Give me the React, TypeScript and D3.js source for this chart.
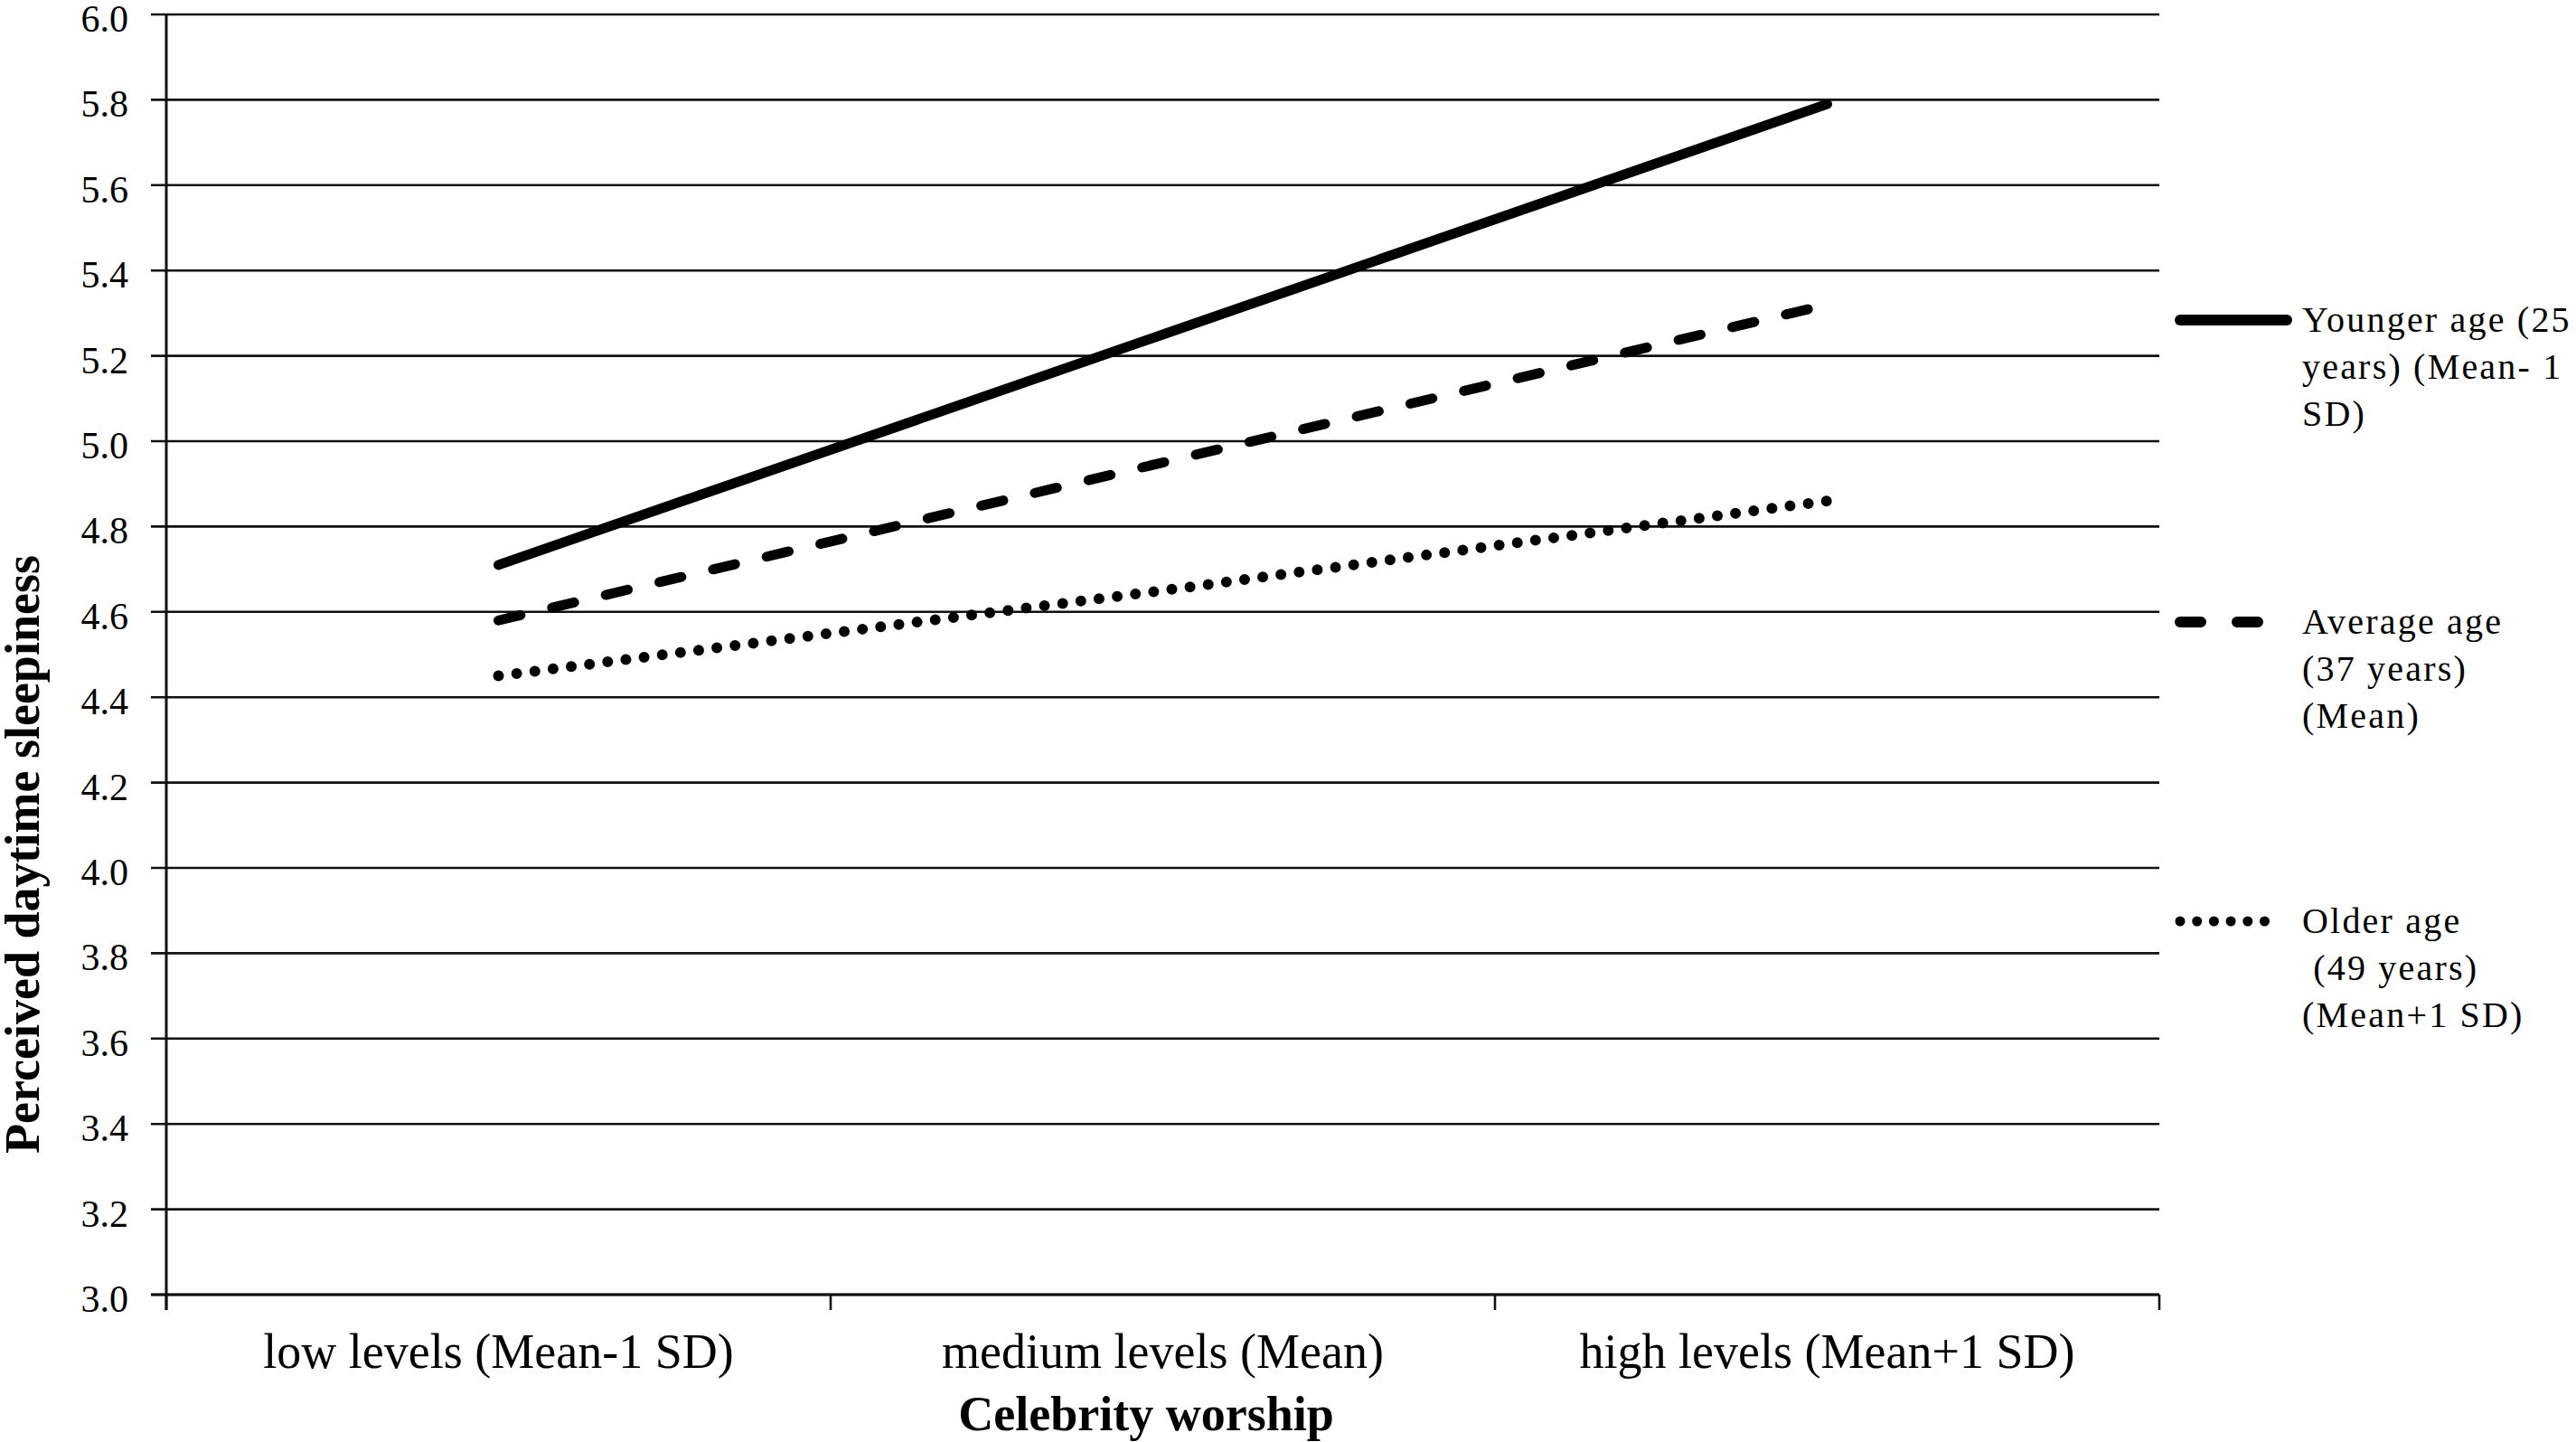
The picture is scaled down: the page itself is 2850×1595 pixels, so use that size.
import React, { useEffect } from "react";
import * as d3 from "d3";

const categories = ["low levels (Mean-1 SD)", "medium levels (Mean)", "high levels (Mean+1 SD)"];
const youngerValues = [4.71, 5.25, 5.79];
const averageValues = [4.58, 4.95, 5.32];
const olderValues = [4.45, 4.65, 4.86];
const yTicks = [3.0, 3.2, 3.4, 3.6, 3.8, 4.0, 4.2, 4.4, 4.6, 4.8, 5.0, 5.2, 5.4, 5.6, 5.8, 6.0];
const legendYounger = ["Younger age (25", "years) (Mean- 1", "SD)"];
const legendAverage = ["Average age", "(37 years)", "(Mean)"];
const legendOlder = ["Older age", " (49 years)", "(Mean+1 SD)"];
const xTitle = "Celebrity worship";
const yTitle = "Perceived daytime sleepiness";

const W = 2850;
const H = 1595;
const FONT = "'Liberation Serif', 'Times New Roman', Times, serif";

export default function App() {
  useEffect(() => {
    document.body.style.margin = "0";
  }, []);

  const left = 184;
  const right = 2389;
  const top = 16;
  const bottom = 1432;

  const x = d3.scaleBand<string>().domain(categories).range([left, right]).padding(0);
  const y = d3.scaleLinear().domain([3, 6]).range([bottom, top]);
  const cx = (c: string) => (x(c) as number) + x.bandwidth() / 2;

  const line = d3
    .line<number>()
    .x((_, i) => cx(categories[i]))
    .y((v) => y(v));

  const series = [
    { name: "younger", values: youngerValues, width: 11, dash: undefined as string | undefined, legend: legendYounger, ly: 354, lw: 12, ldash: undefined as string | undefined, lend: 2530 },
    { name: "average", values: averageValues, width: 11, dash: "25 36", legend: legendAverage, ly: 688, lw: 12, ldash: "23 40", lend: 2506 },
    { name: "older", values: olderValues, width: 12, dash: "0 20.3", legend: legendOlder, ly: 1019, lw: 11, ldash: "0 18.7", lend: 2520 },
  ];

  const xBoundaries = [...categories.map((c) => x(c) as number), right];

  return (
    <svg width={W} height={H} viewBox={`0 0 ${W} ${H}`} style={{ display: "block", background: "#fff" }}>
      <rect x={0} y={0} width={W} height={H} fill="#fff" />
      {yTicks.map((t) => (
        <g key={t}>
          <line x1={167} x2={right} y1={y(t)} y2={y(t)} stroke="#111" strokeWidth={2.6} />
          <text x={142} y={y(t) + 19} textAnchor="end" fontFamily={FONT} fontSize={42} fill="#000">
            {t.toFixed(1)}
          </text>
        </g>
      ))}
      <line x1={left} x2={left} y1={top} y2={bottom + 17} stroke="#111" strokeWidth={3} />
      {xBoundaries.map((b, i) => (
        <line key={i} x1={b} x2={b} y1={bottom} y2={bottom + 17} stroke="#111" strokeWidth={2.6} />
      ))}
      <line x1={167} x2={right} y1={bottom} y2={bottom} stroke="#111" strokeWidth={3.2} />
      {categories.map((c) => (
        <text key={c} x={cx(c)} y={1513} textAnchor="middle" fontFamily={FONT} fontSize={54} fill="#000">
          {c}
        </text>
      ))}
      <text x={1268} y={1582} textAnchor="middle" fontFamily={FONT} fontSize={54} fontWeight="bold" fill="#000">
        {xTitle}
      </text>
      <text
        transform={`translate(43, 945) rotate(-90)`}
        textAnchor="middle"
        fontFamily={FONT}
        fontSize={54}
        fontWeight="bold"
        fill="#000"
      >
        {yTitle}
      </text>
      {series.map((s) => (
        <path
          key={s.name}
          d={line(s.values) as string}
          fill="none"
          stroke="#000"
          strokeWidth={s.width}
          strokeDasharray={s.dash}
          strokeLinecap="round"
        />
      ))}
      {series.map((s) => (
        <g key={"lg" + s.name}>
          <line
            x1={2412}
            x2={s.lend}
            y1={s.ly}
            y2={s.ly}
            stroke="#000"
            strokeWidth={s.lw}
            strokeDasharray={s.ldash}
            strokeLinecap="round"
          />
          {s.legend.map((t, i) => (
            <text
              key={i}
              x={2547}
              y={s.ly + 13 + i * 52}
              fontFamily={FONT}
              fontSize={40}
              letterSpacing={2.2}
              fill="#000"
              xmlSpace="preserve"
              style={{ whiteSpace: "pre" }}
            >
              {t}
            </text>
          ))}
        </g>
      ))}
    </svg>
  );
}
